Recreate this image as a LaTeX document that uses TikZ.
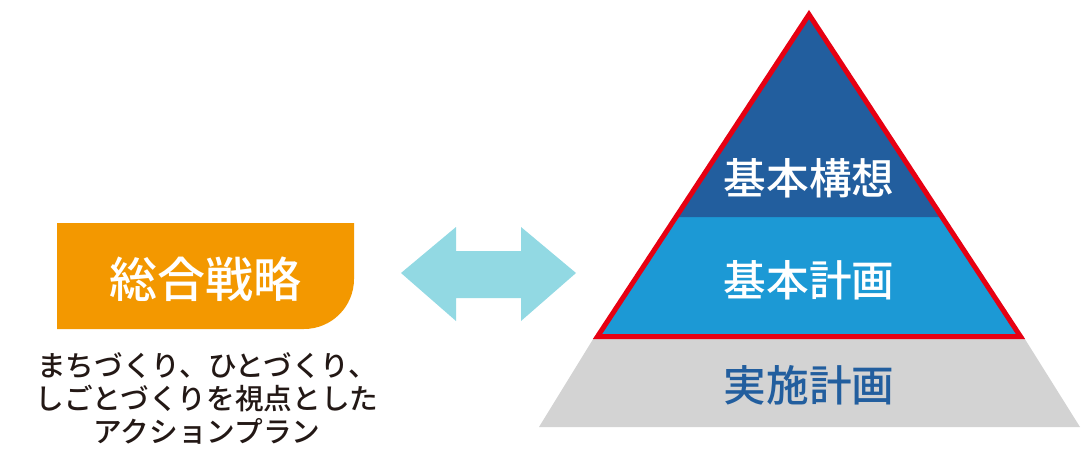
\documentclass[tikz,border=0pt]{standalone}
\usepackage{fontspec}
\newfontfamily\jpfont{Noto Sans CJK JP Medium}
\definecolor{kousoublue}{RGB}{34,94,158}
\definecolor{keikakublue}{RGB}{28,153,213}
\definecolor{pyramidred}{RGB}{230,0,18}
\definecolor{jisshigray}{RGB}{211,211,211}
\definecolor{senryakuorange}{RGB}{243,152,0}
\definecolor{arrowcyan}{RGB}{146,217,227}
\definecolor{notetext}{RGB}{35,24,21}
\begin{document}
\begin{tikzpicture}[x=0.75pt, y=-0.75pt, line join=miter, font=\jpfont,
    layer/.style={text=white, font=\jpfont\fontsize{32}{32}\selectfont},
    note/.style={text=notetext, align=center, font=\jpfont\fontsize{21.5}{24.75}\selectfont}]
  \useasboundingbox (0,0) rectangle (1081,454);
  % base of the pyramid
  \fill[jisshigray] (595,336) -- (1023,336) -- (1080,427) -- (539,427) -- cycle;
  % upper triangle
  \fill[keikakublue] (809,14.5) -- (1020.5,336.5) -- (597.5,336.5) -- cycle;
  \fill[kousoublue] (809,14.5) -- (942,217) -- (676,217) -- cycle;
  \draw[pyramidred, line width=3.75pt] (809,14.5) -- (1020.5,336.5) -- (597.5,336.5) -- cycle;
  \node[layer] (kousou) at (809,178) {基本構想};
  \node[layer] (keikaku) at (809,280) {基本計画};
  \node[layer, text=kousoublue] (jisshi) at (809,385) {実施計画};
  % general strategy box
  \fill[senryakuorange] (57,223) -- (354,223) -- (354,279) arc (0:90:50) -- (57,329) -- cycle;
  \node[text=white, font=\jpfont\fontsize{36}{36}\selectfont] (senryaku) at (205,279) {総合戦略};
  \node[note] (senryakunote) at (207,398) {まちづくり、ひとづくり、\\しごとづくりを視点とした\\アクションプラン};
  % double arrow
  \fill[arrowcyan] (401,273) -- (456,227) -- (456,251) -- (521,251) -- (521,227) -- (576,273)
    -- (521,321) -- (521,298) -- (456,298) -- (456,321) -- cycle;
\end{tikzpicture}
\end{document}
